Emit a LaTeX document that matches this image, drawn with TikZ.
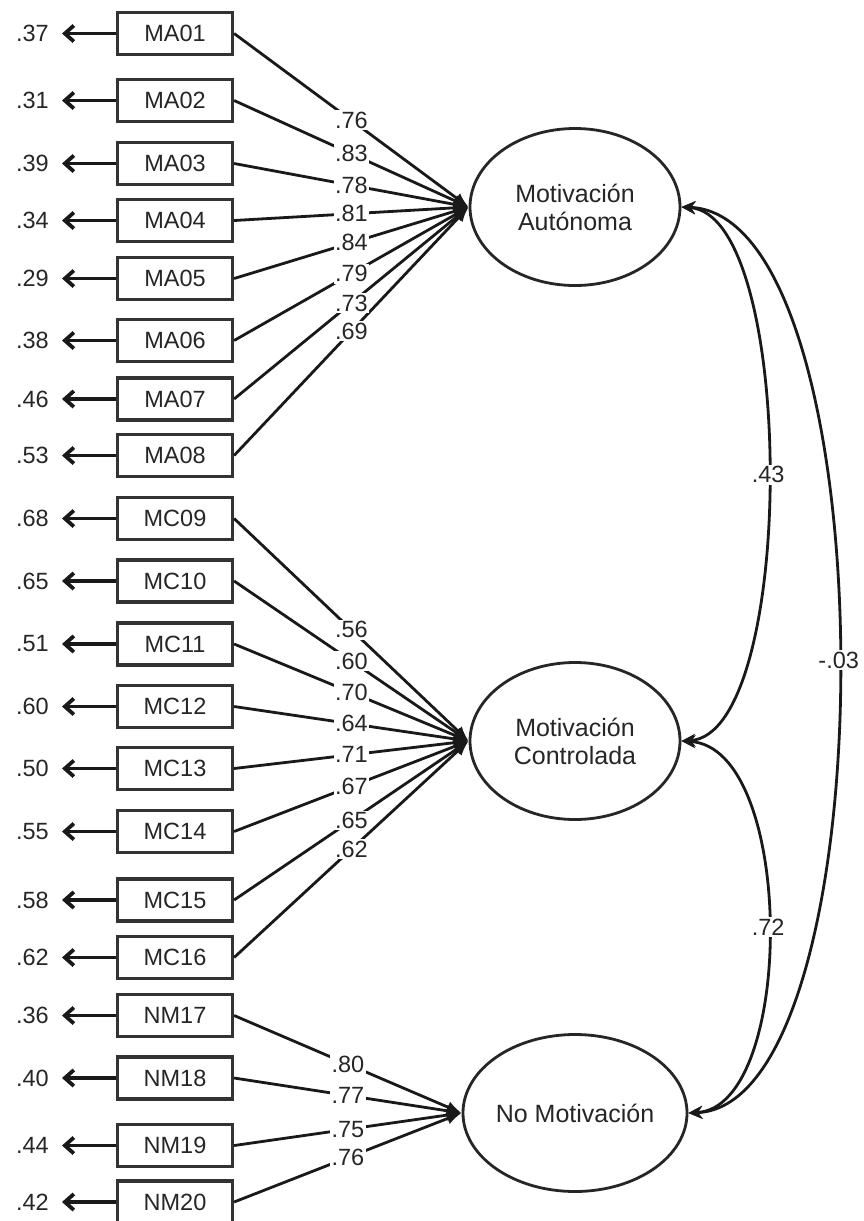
\documentclass[tikz,border=0pt]{standalone}
\usepackage{fontspec}
\setmainfont{Liberation Sans}
\usetikzlibrary{arrows.meta,shapes.geometric}
\begin{document}
\begin{tikzpicture}[x=1pt,y=-1pt,
 ind/.style={draw=black!80, line width=3.2pt, fill=white, minimum width=115pt, minimum height=42pt, inner sep=0pt, font=\fontsize{23.5}{27}\selectfont, text=black!85},
 lat/.style={ellipse, draw=black!85, line width=2.8pt, fill=white, minimum width=210pt, minimum height=157pt, inner sep=0pt, align=center, font=\fontsize{25}{28}\selectfont, text=black!85},
 err/.style={anchor=east, inner sep=0pt, font=\fontsize{23.5}{27}\selectfont, text=black!85},
 errarrow/.style={line width=3.8pt, draw=black!90, -{Straight Barb[length=9pt,width=16pt]}, shorten >=13pt},
 load/.style={line width=2.8pt, draw=black!90, -{Latex[length=15pt,width=12pt]}},
 lbl/.style={fill=white, inner sep=1.5pt, font=\fontsize{23.5}{27}\selectfont, text=black!85},
 cov/.style={line width=2.8pt, draw=black!90, {Stealth[length=14pt,width=13pt]}-{Stealth[length=14pt,width=13pt]}}
]
\useasboundingbox (0,0) rectangle (863,1221);

\node[lat] (MA) at (575,207) {Motivación\\Autónoma};
\node[lat] (MC) at (575,741) {Motivación\\Controlada};
\node[lat] (NM) at (575,1113) {No Motivación};

\foreach \n/\y/\e/\f in {MA01/33.5/.37/MA, MA02/100.5/.31/MA, MA03/163.5/.39/MA, MA04/220.5/.34/MA,
  MA05/278.5/.29/MA, MA06/340.5/.38/MA, MA07/399/.46/MA, MA08/455.5/.53/MA,
  MC09/518.5/.68/MC, MC10/581/.65/MC, MC11/644/.51/MC, MC12/706.5/.60/MC,
  MC13/768.5/.50/MC, MC14/831.5/.55/MC, MC15/900/.58/MC, MC16/957.5/.62/MC,
  NM17/1015.5/.36/NM, NM18/1078/.40/NM, NM19/1145.5/.44/NM, NM20/1202/.42/NM} {
  \node[ind] (\n) at (175,\y) {\n};
  \node[err] (e\n) at (49,\y) {\e};
  \draw[errarrow] (\n.west) -- (e\n.east);
  \draw[load] (\n.east) -- (\f.west);
}

\foreach \n/\l/\f in {MA01/.76/MA, MA02/.83/MA, MA03/.78/MA, MA04/.81/MA,
  MA05/.84/MA, MA06/.79/MA, MA07/.73/MA, MA08/.69/MA,
  MC09/.56/MC, MC10/.60/MC, MC11/.70/MC, MC12/.64/MC,
  MC13/.71/MC, MC14/.67/MC, MC15/.65/MC, MC16/.62/MC,
  NM17/.80/NM, NM18/.77/NM, NM19/.75/NM, NM20/.76/NM} {
  \path (\n.east) -- (\f.west) node[lbl, pos=0.5] {\l};
}

\draw[cov] (MA.east) .. controls (797,215) and (797,735) .. (MC.east) node[lbl, pos=0.5] {.43};
\draw[cov] (MA.east) .. controls (890,215) and (890,1105) .. (NM.east) node[lbl, pos=0.5] {-.03};
\draw[cov] (MC.east) .. controls (796,747) and (796,1107) .. (NM.east) node[lbl, pos=0.5] {.72};
\end{tikzpicture}
\end{document}
